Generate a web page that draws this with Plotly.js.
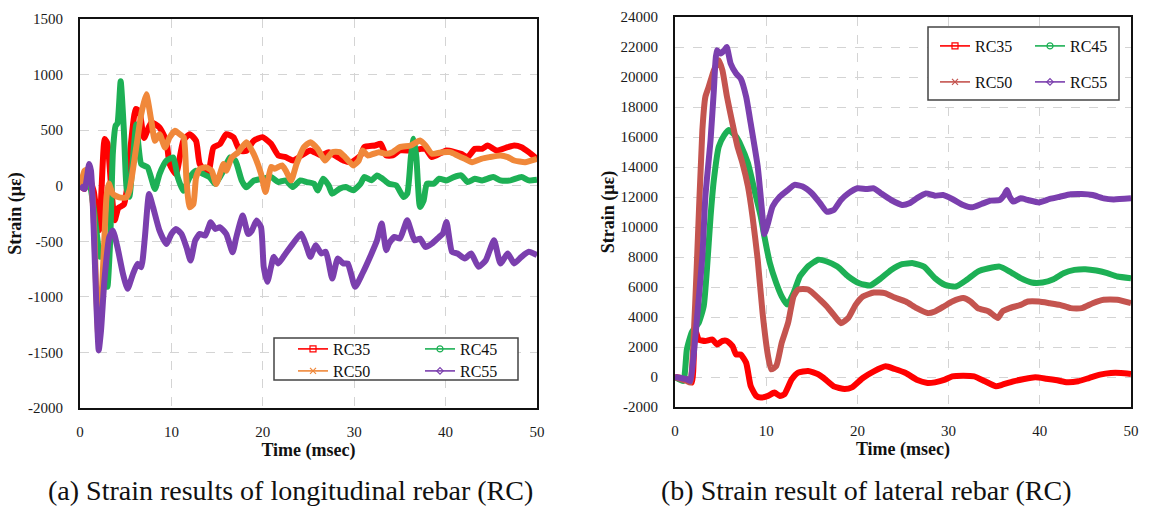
<!DOCTYPE html>
<html>
<head>
<meta charset="utf-8">
<script src="https://cdn.plot.ly/plotly-3.0.1.min.js"></script>
<style>
  html, body { margin: 0; padding: 0; background: #fff; }
  #chart { width: 1153px; height: 512px; }
</style>
</head>
<body>
<div id="chart"></div>
<script>
// ---------- (a) longitudinal rebar strain (με) vs time (msec) ----------
const longT35 = [0, 0.5, 1.0, 1.5, 2.1, 2.7, 3.0, 3.4, 3.8, 4.2, 4.8, 5.1, 5.6, 6.1, 6.5, 7.0, 7.8, 8.7, 9.45, 9.8, 10.5, 11.3, 12.0, 12.7, 13.1, 14.0, 14.6, 15.3, 16.0, 16.8, 17.5, 18.2, 19.0, 19.95, 20.9, 21.7, 22.5, 23.3, 24.5, 25.2, 26.4, 27.2, 28.8, 29.7, 30.7, 31.1, 32.3, 32.9, 33.5, 34.2, 35.0, 36.2, 37.8, 38.5, 40.1, 41.7, 42.4, 43.2, 44.0, 44.6, 45.6, 46.8, 47.5, 48.3, 49.1, 50.0];
const longRC35 = [0, -30, 60, -50, -400, 420, 380, 0, -310, -200, -170, -50, 400, 690, 670, 430, 569, 524, 404, 195, 105, 404, 464, 404, 195, 105, 344, 374, 464, 434, 314, 314, 404, 437, 377, 272, 257, 227, 287, 317, 272, 300, 227, 212, 272, 347, 362, 377, 272, 272, 317, 317, 332, 257, 317, 287, 257, 332, 332, 362, 317, 347, 362, 347, 302, 242];

const longT45 = [0, 0.5, 1.0, 1.5, 2.2, 2.5, 3.0, 3.3, 3.6, 3.9, 4.1, 4.45, 4.8, 5.1, 5.4, 5.8, 6.15, 6.7, 7.4, 8.2, 8.7, 9.45, 10.2, 10.7, 11.3, 12.0, 12.7, 13.5, 14.2, 14.8, 15.7, 16.4, 17.0, 17.7, 18.2, 19.0, 20.0, 20.9, 21.7, 22.5, 23.3, 24.1, 24.8, 25.6, 26.0, 26.6, 27.2, 27.6, 28.4, 29.1, 29.9, 30.7, 31.1, 31.9, 32.5, 33.1, 33.8, 34.6, 35.4, 35.8, 36.2, 36.5, 36.8, 37.2, 37.6, 37.95, 38.7, 39.3, 40.1, 40.9, 41.7, 42.4, 43.2, 44.0, 45.2, 46.0, 47.1, 48.3, 49.1, 50.0];
const longRC45 = [0, -15, 30, -200, -640, -560, -910, -500, 300, 540, 560, 940, 500, -20, -100, 250, 550, 195, 165, -30, 105, 225, 254, 75, -45, 75, 135, 105, 75, 15, 135, 254, 225, 45, -15, 45, 63, 78, 33, 48, -12, 48, 33, 18, -42, 63, 3, -72, -27, -12, -42, 18, 78, 48, 93, 63, 18, 3, -102, -72, 257, 422, 257, -191, -132, 18, 18, 63, 48, 78, 93, 33, 63, 48, 78, 48, 48, 78, 48, 54];

const longT50 = [0, 0.5, 1.0, 1.5, 1.8, 2.0, 2.3, 2.6, 2.9, 3.15, 3.6, 4.3, 5.05, 5.4, 6.15, 6.7, 7.25, 7.8, 8.2, 8.7, 9.3, 9.8, 10.4, 10.9, 11.35, 11.65, 12.0, 12.4, 12.7, 13.1, 13.8, 14.4, 14.9, 15.7, 16.0, 16.6, 17.3, 18.2, 19.0, 19.8, 20.3, 20.9, 21.3, 22.1, 22.5, 23.1, 23.7, 24.5, 25.2, 26.0, 26.8, 27.6, 28.4, 29.0, 29.9, 30.5, 30.9, 31.5, 32.7, 33.5, 34.2, 35.0, 36.2, 37.2, 37.8, 38.5, 39.7, 40.5, 41.3, 42.1, 42.9, 43.9, 44.8, 46.0, 46.8, 47.5, 48.7, 50.0];
const longRC50 = [-30, 135, 150, -300, -1000, -1350, -1100, -600, -100, 20, -75, -105, -105, -45, 344, 644, 823, 584, 404, 464, 344, 434, 494, 464, 434, 45, -195, -165, 75, 150, 165, 135, 15, 195, 135, 254, 300, 392, 287, 108, -57, 168, 153, 183, 138, 48, 198, 347, 392, 332, 227, 302, 302, 257, 183, 227, 317, 272, 302, 287, 302, 347, 362, 407, 362, 287, 302, 302, 272, 242, 212, 242, 257, 272, 257, 227, 212, 242];

const longT55 = [0, 0.5, 1.0, 1.2, 1.4, 1.76, 2.05, 2.3, 2.67, 3.2, 3.6, 4.1, 4.7, 5.2, 5.8, 6.3, 6.7, 7.1, 7.55, 8.0, 8.7, 9.45, 10.0, 10.5, 11.1, 11.65, 12.1, 12.6, 13.1, 13.7, 14.3, 14.8, 15.3, 16.0, 16.7, 17.1, 17.8, 18.4, 18.8, 19.3, 19.8, 20.1, 20.5, 20.9, 21.2, 21.7, 22.5, 23.3, 24.2, 24.8, 25.2, 25.8, 26.4, 26.9, 27.6, 28.2, 28.8, 29.3, 30.1, 30.9, 31.9, 32.5, 33.0, 33.5, 33.8, 34.4, 35.0, 35.8, 36.6, 37.2, 37.8, 38.5, 39.3, 39.7, 40.1, 40.7, 41.3, 42.1, 42.8, 43.6, 44.4, 45.3, 46.0, 46.8, 47.5, 48.3, 49.1, 50.0];
const longRC55 = [0, -30, 195, 135, -165, -1003, -1482, -1302, -853, -464, -404, -554, -793, -928, -793, -703, -733, -464, -75, -195, -404, -524, -434, -389, -434, -554, -673, -494, -434, -449, -329, -389, -374, -434, -599, -464, -269, -434, -404, -314, -371, -730, -865, -730, -640, -700, -610, -521, -431, -551, -640, -536, -610, -595, -835, -655, -700, -700, -910, -790, -610, -491, -341, -580, -521, -461, -476, -311, -491, -476, -551, -521, -461, -431, -326, -595, -610, -655, -610, -730, -670, -491, -700, -610, -700, -640, -595, -625];

// ---------- (b) lateral rebar strain (με) vs time (msec) ----------
const latT35 = [0, 1.3, 1.85, 2.2, 2.6, 3.3, 4.1, 4.6, 5.2, 5.7, 6.3, 6.7, 7.2, 7.8, 8.3, 8.9, 9.4, 10.2, 10.9, 11.5, 12.0, 12.8, 13.5, 14.6, 15.7, 16.3, 17.4, 18.6, 19.4, 20.6, 21.8, 23.1, 24.1, 25.3, 26.5, 27.7, 28.5, 29.6, 30.4, 31.6, 32.8, 34.0, 35.2, 35.9, 37.1, 38.3, 39.5, 40.7, 41.9, 43.0, 44.2, 45.4, 46.6, 47.8, 48.9, 50.0];
const latRC35 = [0, -150, -377, 3170, 2500, 2400, 2500, 2170, 2400, 2400, 2060, 1500, 1500, 950, -600, -1260, -1370, -1260, -1040, -1260, -1150, -155, 290, 400, 180, -67, -621, -800, -690, -67, 377, 710, 532, 266, -177, -400, -355, -177, 44, 89, 44, -288, -621, -510, -288, -133, -22, -111, -222, -355, -288, -67, 155, 266, 266, 200];

const latT45 = [0, 0.9, 1.3, 1.85, 2.6, 3.15, 3.5, 3.9, 4.26, 4.8, 5.4, 5.9, 6.7, 7.2, 8.0, 8.7, 9.4, 9.8, 10.4, 11.1, 11.7, 12.3, 13.0, 13.7, 14.6, 15.7, 16.65, 17.8, 19.0, 20.2, 21.4, 22.6, 23.7, 24.9, 26.1, 27.3, 28.5, 29.6, 30.8, 32.0, 33.2, 34.4, 35.6, 36.7, 37.9, 39.1, 40.3, 41.5, 42.6, 43.8, 45.0, 46.2, 47.4, 48.5, 50.0];
const latRC45 = [0, -266, 1840, 3000, 3610, 4720, 7160, 10700, 13140, 15360, 16130, 16470, 16020, 15470, 14250, 12480, 10700, 9370, 7600, 6270, 5380, 4830, 5600, 6710, 7380, 7820, 7700, 7360, 6700, 6250, 6100, 6590, 7140, 7520, 7590, 7360, 6590, 6140, 6030, 6480, 7030, 7250, 7360, 7030, 6590, 6300, 6300, 6520, 6920, 7140, 7190, 7100, 6920, 6700, 6590];

const latT50 = [0, 1.3, 1.67, 2.0, 2.4, 3.0, 3.33, 3.7, 4.26, 4.8, 5.2, 5.7, 6.3, 6.85, 7.4, 8.0, 8.5, 9.07, 9.6, 10.2, 10.55, 11.1, 11.7, 12.4, 13.0, 13.5, 14.6, 15.9, 16.65, 17.4, 18.2, 19.0, 19.8, 20.6, 21.8, 23.0, 24.1, 25.3, 26.5, 27.7, 28.5, 29.6, 30.4, 31.6, 32.4, 33.2, 34.4, 35.4, 35.9, 36.7, 37.9, 38.7, 39.9, 41.1, 42.2, 43.4, 44.6, 45.8, 47.0, 48.5, 50.0];
const latRC50 = [0, -266, -377, 2060, 7600, 16460, 18680, 19350, 20450, 21120, 20450, 18680, 16910, 15360, 14250, 12700, 10700, 7820, 4280, 1400, 510, 730, 2280, 3610, 5380, 5830, 5830, 5150, 4700, 4150, 3590, 3930, 4810, 5370, 5630, 5590, 5300, 5030, 4590, 4260, 4370, 4750, 5030, 5260, 5030, 4590, 4370, 3930, 4370, 4590, 4810, 5030, 5030, 4920, 4810, 4590, 4590, 4920, 5150, 5150, 4920];

const latT55 = [0, 1.3, 1.67, 2.0, 2.4, 3.0, 3.33, 3.9, 4.26, 4.6, 5.0, 5.4, 5.67, 6.1, 6.7, 7.2, 7.8, 8.3, 9.07, 9.6, 9.8, 10.2, 10.7, 11.5, 12.4, 13.1, 14.0, 15.0, 15.9, 16.65, 17.4, 18.2, 19.0, 20.0, 21.0, 21.8, 22.6, 23.7, 24.9, 25.7, 26.5, 27.5, 28.5, 29.4, 30.4, 31.6, 32.6, 33.6, 34.6, 35.6, 36.1, 36.4, 36.7, 37.1, 37.9, 38.7, 39.9, 41.1, 42.2, 43.4, 44.6, 45.8, 47.0, 48.1, 50.0];
const latRC55 = [0, -155, -266, 1170, 3830, 8040, 12030, 15800, 19120, 21780, 21560, 21780, 22000, 20900, 20230, 19900, 18680, 16910, 14030, 10700, 9530, 10260, 11370, 12030, 12480, 12810, 12700, 12250, 11590, 11020, 11130, 11800, 12240, 12580, 12530, 12580, 12240, 11800, 11470, 11580, 11910, 12240, 12090, 12130, 11870, 11470, 11310, 11530, 11760, 11800, 12130, 12470, 12020, 11690, 11910, 11800, 11640, 11870, 12020, 12180, 12200, 12130, 11910, 11840, 11910];

// ---------- axis ticks ----------
const timeTicks = [0, 10, 20, 30, 40, 50];
const longTickVals = [-2000, -1500, -1000, -500, 0, 500, 1000, 1500];
const longTickText = ['-2000', '-1500', '-1000', '-500', '0', '500', '1000', '1500'];
const latTickVals = [-2000, 0, 2000, 4000, 6000, 8000, 10000, 12000, 14000, 16000, 18000, 20000, 22000, 24000];
const latTickText = ['-2000', '0', '2000', '4000', '6000', '8000', '10000', '12000', '14000', '16000', '18000', '20000', '22000', '24000'];

// ---------- series names, colours and legend symbols ----------
const seriesNames = ['RC35', 'RC45', 'RC50', 'RC55'];
const colorsA = ['#FF0000', '#1DB055', '#F0883A', '#7B3FAE'];
const colorsB = ['#FF0000', '#1DB055', '#C4544F', '#7B3FAE'];
const symbols = ['square-open', 'circle-open', 'x-thin-open', 'diamond-open'];

const SERIF = 'Liberation Serif, Times New Roman, serif';

const dataA = [[longT35, longRC35], [longT45, longRC45], [longT50, longRC50], [longT55, longRC55]];
const dataB = [[latT35, latRC35], [latT45, latRC45], [latT50, latRC50], [latT55, latRC55]];

const traces = [];
function addCurves(sets, colors, xa, ya) {
  sets.forEach(function (s, i) {
    traces.push({
      type: 'scatter', mode: 'lines', x: s[0], y: s[1],
      xaxis: xa, yaxis: ya, showlegend: false, hoverinfo: 'skip',
      line: { color: colors[i], width: 6, shape: 'spline', smoothing: 0.5 }
    });
  });
}
addCurves(dataA, colorsA, 'x', 'y');
addCurves(dataB, colorsB, 'x2', 'y2');

// legend keys: one horizontal legend per row of each key box
const legendRows = [
  { idx: [0, 1], colors: colorsA, legend: 'legend', xa: 'x', ya: 'y' },
  { idx: [2, 3], colors: colorsA, legend: 'legend2', xa: 'x', ya: 'y' },
  { idx: [0, 1], colors: colorsB, legend: 'legend3', xa: 'x2', ya: 'y2' },
  { idx: [2, 3], colors: colorsB, legend: 'legend4', xa: 'x2', ya: 'y2' }
];
legendRows.forEach(function (row) {
  row.idx.forEach(function (i) {
    traces.push({
      type: 'scatter', mode: 'lines+markers', x: [null], y: [null],
      xaxis: row.xa, yaxis: row.ya, name: seriesNames[i], legend: row.legend,
      line: { color: row.colors[i], width: 1.6 },
      marker: { symbol: symbols[i], size: i === 3 ? 5 : 6, color: row.colors[i], line: { width: 1.2, color: row.colors[i] } }
    });
  });
});

const W = 1153, H = 512;
const px = function (x) { return x / W; };
const py = function (y) { return 1 - y / H; };

function axisX(domain, anchor) {
  return {
    domain: domain, anchor: anchor, range: [0, 50],
    tickmode: 'array', tickvals: timeTicks,
    showline: true, mirror: true, linecolor: '#111', linewidth: 2,
    showgrid: true, gridcolor: '#D4D4D4', griddash: 'dash', gridwidth: 1,
    zeroline: false, ticks: '', ticklabelstandoff: 9,
    tickfont: { family: SERIF, size: 15, color: '#1a1a1a' },
    title: { text: 'Time (msec)', standoff: 4, font: { family: SERIF, size: 18, color: '#111', weight: 'bold' } }
  };
}
function axisY(domain, anchor, range, vals, texts, standoff) {
  return {
    domain: domain, anchor: anchor, range: range,
    tickmode: 'array', tickvals: vals, ticktext: texts,
    showline: true, mirror: true, linecolor: '#111', linewidth: 2,
    showgrid: true, gridcolor: '#D4D4D4', griddash: 'dash', gridwidth: 1,
    zeroline: false, ticks: '', ticklabelstandoff: 12,
    tickfont: { family: SERIF, size: 15, color: '#1a1a1a' },
    title: { text: 'Strain (με)', standoff: standoff, font: { family: SERIF, size: 18, color: '#111', weight: 'bold' } }
  };
}

function legendRow(xLeft, yMid, entryW) {
  return {
    orientation: 'h', x: px(xLeft), xanchor: 'left', y: py(yMid), yanchor: 'middle',
    xref: 'paper', yref: 'paper', bgcolor: 'rgba(0,0,0,0)', borderwidth: 0,
    entrywidth: entryW, entrywidthmode: 'pixels', itemclick: false, itemdoubleclick: false,
    font: { family: SERIF, size: 16, color: '#111' }
  };
}

const layout = {
  width: W, height: H,
  margin: { l: 0, r: 0, t: 0, b: 0 },
  paper_bgcolor: '#fff', plot_bgcolor: '#fff',
  showlegend: true,
  xaxis: axisX([px(80), px(537)], 'y'),
  yaxis: axisY([py(408), py(19)], 'x', [-2000, 1500], longTickVals, longTickText, 2),
  xaxis2: axisX([px(675), px(1131)], 'y2'),
  yaxis2: axisY([py(407), py(17)], 'x2', [-2000, 24000], latTickVals, latTickText, 1),
  legend: legendRow(293, 349, 82),
  legend2: legendRow(293, 371, 82),
  legend3: legendRow(935, 46, 50),
  legend4: legendRow(935, 82, 50),
  shapes: [
    { type: 'rect', xref: 'paper', yref: 'paper', layer: 'above',
      x0: px(274), x1: px(518), y0: py(380), y1: py(338),
      fillcolor: '#fff', line: { color: '#444', width: 1.5 } },
    { type: 'rect', xref: 'paper', yref: 'paper', layer: 'above',
      x0: px(928), x1: px(1119), y0: py(100), y1: py(27),
      fillcolor: '#fff', line: { color: '#444', width: 1.5 } }
  ],
  annotations: [
    { text: '(a) Strain results of longitudinal rebar (RC)', xref: 'paper', yref: 'paper',
      x: px(290), y: py(490), xanchor: 'center', yanchor: 'middle', showarrow: false,
      font: { family: SERIF, size: 28, color: '#111' } },
    { text: '(b) Strain result of lateral rebar (RC)', xref: 'paper', yref: 'paper',
      x: px(866), y: py(490), xanchor: 'center', yanchor: 'middle', showarrow: false,
      font: { family: SERIF, size: 28, color: '#111' } }
  ]
};

Plotly.newPlot('chart', traces, layout, { staticPlot: true, displayModeBar: false });
</script>
</body>
</html>
